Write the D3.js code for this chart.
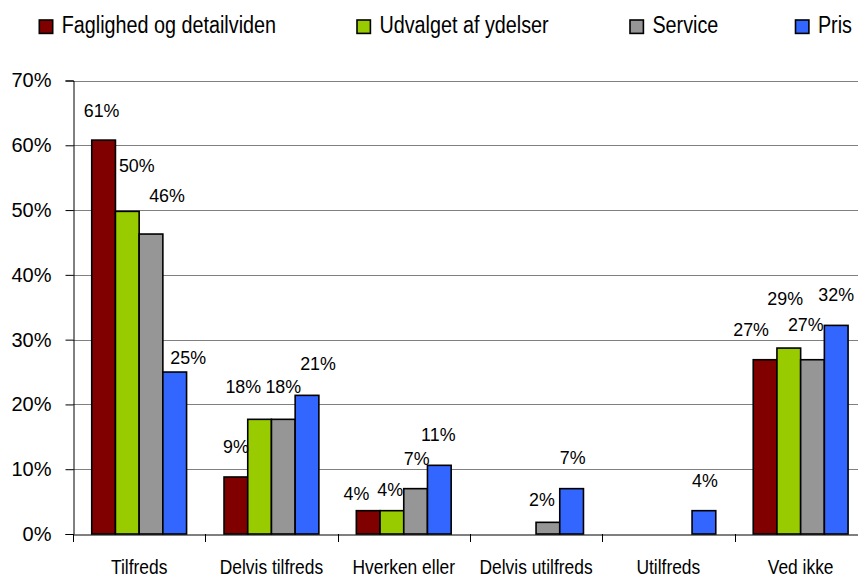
<!DOCTYPE html>
<html>
<head>
<meta charset="utf-8">
<script src="https://cdn.jsdelivr.net/npm/d3@7/dist/d3.min.js"></script>
<style>
  html, body { margin: 0; padding: 0; background: #fff; }
  svg { display: block; font-family: "Liberation Sans", Arial, sans-serif; }
</style>
</head>
<body>
<svg id="chart" width="858" height="579"></svg>
<script>
// ---- Data ----
const categories = ["Tilfreds", "Delvis tilfreds", "Hverken eller", "Delvis utilfreds", "Utilfreds", "Ved ikke"];
const seriesNames = ["Faglighed og detailviden", "Udvalget af ydelser", "Service", "Pris"];
const faglighed = [60.8, 8.8, 3.6, 0, 0, 26.9];
const udvalget  = [49.8, 17.7, 3.6, 0, 0, 28.7];
const service   = [46.3, 17.7, 7.0, 1.8, 0, 26.9];
const pris      = [25.0, 21.4, 10.6, 7.0, 3.6, 32.2];
const yTicks = [0, 10, 20, 30, 40, 50, 60, 70];

// ---- Styles / layout ----
const colors = ["#800000", "#99CC00", "#969696", "#3366FF"];
const seriesValues = [faglighed, udvalget, service, pris];

// label nudges (px) reproducing the reference's hand-placed labels: [dx, dy]
const labelNudge = {
  "0|0": [-2, 1],  "0|1": [9.5, -15], "0|2": [16, -8], "0|3": [13.5, 15.5],
  "1|0": [0, 0],   "1|1": [-16.3, -2], "1|2": [0, -2], "1|3": [11, -1],
  "2|0": [-11.7, 13.7], "2|1": [-1.7, 9.7], "2|2": [1, 0], "2|3": [-1, 0],
  "3|2": [-6, 7.3], "3|3": [1, -1],
  "4|3": [1, 0],
  "5|0": [-14, 0], "5|1": [-3.6, -18.7], "5|2": [-6.7, -5], "5|3": [0, 0]
};

const svg = d3.select("#chart");
const plotLeft = 73, plotBottom = 534, plotTop = 80.5;
const catW = 132.3;

const x0 = d3.scaleBand().domain(categories)
  .range([plotLeft, plotLeft + catW * categories.length]).paddingInner(0).paddingOuter(0);
const x1 = d3.scaleBand().domain(d3.range(seriesNames.length))
  .range([0, x0.bandwidth()]).paddingInner(0).paddingOuter(0.79);
const y = d3.scaleLinear().domain([0, 70]).range([plotBottom, plotTop]);

// gridlines
svg.append("g").selectAll("line").data(yTicks.filter(d => d > 0)).join("line")
  .attr("x1", plotLeft).attr("x2", 858)
  .attr("y1", d => Math.round(y(d)) + 0.5).attr("y2", d => Math.round(y(d)) + 0.5)
  .attr("stroke", "#808080").attr("stroke-width", 1);

// y axis
const yAxis = d3.axisLeft(y).tickValues(yTicks).tickFormat(d => d + "%").tickSize(8).tickPadding(14);
const gy = svg.append("g").attr("transform", `translate(${plotLeft + 0.5},0)`).call(yAxis);
gy.select(".domain").attr("stroke", "#000");
gy.selectAll(".tick line").attr("stroke", "#000");
gy.selectAll(".tick text").attr("font-size", 20).attr("fill", "#000")
  .attr("font-family", "Liberation Sans, Arial, sans-serif");

// bars
const barData = [];
categories.forEach((c, ci) => {
  seriesValues.forEach((vals, si) => {
    if (vals[ci] > 0) barData.push({ c, ci, si, v: vals[ci] });
  });
});

svg.append("g").selectAll("rect").data(barData).join("rect")
  .attr("x", d => x0(d.c) + x1(d.si))
  .attr("y", d => y(d.v))
  .attr("width", x1.bandwidth())
  .attr("height", d => y(0) - y(d.v))
  .attr("fill", d => colors[d.si])
  .attr("stroke", "#000").attr("stroke-width", 1.6);

// x axis
const xAxis = d3.axisBottom(x0).tickSize(0).tickPadding(25);
const gx = svg.append("g").attr("transform", `translate(0,${plotBottom + 0.5})`).call(xAxis);
gx.select(".domain").attr("stroke", "#000");
gx.selectAll(".tick text").attr("font-size", 20).attr("fill", "#000")
  .attr("font-family", "Liberation Sans, Arial, sans-serif")
  .attr("transform", "scale(0.87,1)");
// category boundary ticks
const bounds = categories.map(c => x0(c)).concat([x0(categories[categories.length - 1]) + x0.bandwidth()]);
svg.append("g").selectAll("line").data(bounds).join("line")
  .attr("x1", d => Math.round(d) + 0.5).attr("x2", d => Math.round(d) + 0.5)
  .attr("y1", plotBottom).attr("y2", plotBottom + 8)
  .attr("stroke", "#000");

// data labels
const nud = d => labelNudge[d.ci + "|" + d.si] || [0, 0];
svg.append("g").selectAll("text").data(barData).join("text")
  .attr("transform", d => {
    const lx = x0(d.c) + x1(d.si) + x1.bandwidth() / 2 + nud(d)[0];
    const ly = y(d.v) - 24 + nud(d)[1];
    return `translate(${lx},${ly}) scale(0.94,1)`;
  })
  .attr("text-anchor", "middle")
  .attr("font-size", 19).attr("fill", "#000")
  .text(d => Math.round(d.v) + "%");

// legend
const legendX = [39.3, 357, 630, 795.5];
const lg = svg.append("g").selectAll("g").data(seriesNames).join("g")
  .attr("transform", (d, i) => `translate(${legendX[i]},20)`);
lg.append("rect").attr("x", 0).attr("y", 0).attr("width", 13.4).attr("height", 13.4)
  .attr("fill", (d, i) => colors[i]).attr("stroke", "#000").attr("stroke-width", 1.6);
lg.append("text").attr("transform", "translate(22.4,13.4) scale(0.86,1)")
  .attr("font-size", 23).attr("fill", "#000").text(d => d);
</script>
</body>
</html>
